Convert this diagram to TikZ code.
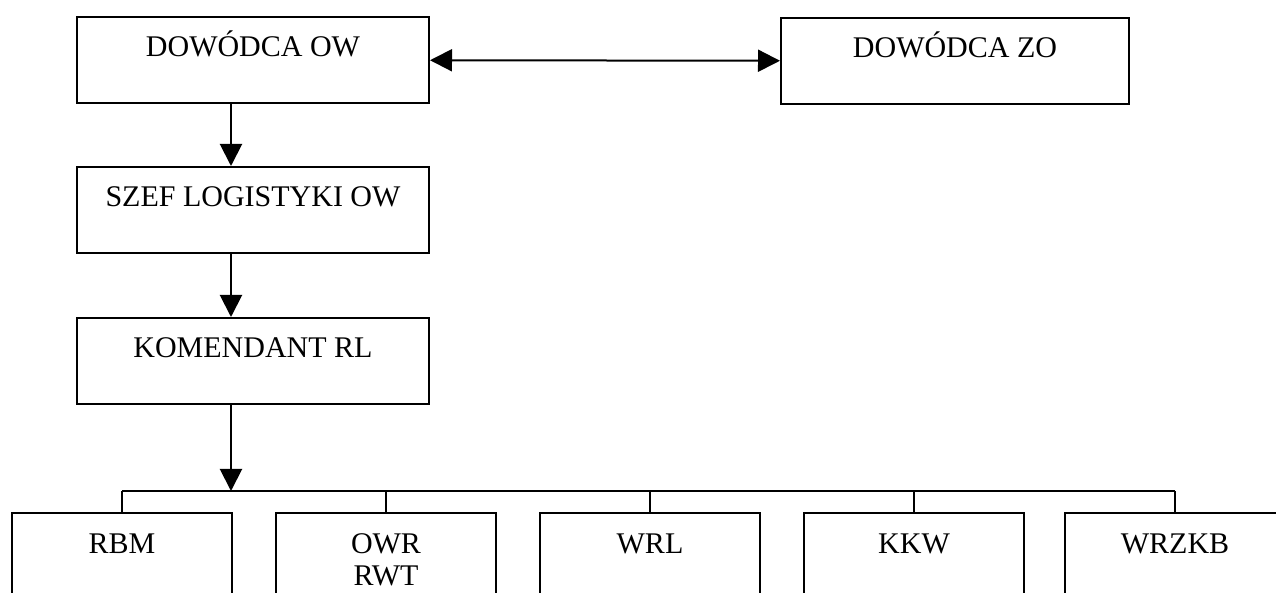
\documentclass[tikz,border=0pt]{standalone}
\usepackage{fontspec}
\setmainfont{Liberation Serif}
\usepackage{tikz}
\usetikzlibrary{arrows.meta, positioning}

\begin{document}
\begin{tikzpicture}[x=0.5pt, y=-0.5pt]
\tikzstyle{box} = [
	shape=rectangle,
	draw=black, %border of the box
	line width=1pt,
	inner sep=0pt,
	text height=20pt, %text sits near the top of the box
	text depth=23pt,
	align=center,
	font=\fontsize{15pt}{16pt}\selectfont
];
\tikzstyle{twolines} = [text height=36pt, text depth=7pt];
\tikzstyle{link} = [-{Triangle[length=11pt,width=11pt]}, line width=1pt, color=black];

\clip (0,0) rectangle (1276,593);

%command chain
\node[box, minimum width=176pt](Ow) at (253,60) {DOWÓDCA OW};
\node[box, minimum width=174pt](Zo) at (955,61) {DOWÓDCA ZO};
\node[box, minimum width=176pt](Sz) at (253,210) {SZEF LOGISTYKI OW};
\node[box, minimum width=176pt](Ko) at (253,361) {KOMENDANT RL};

%units
\foreach \name/\x/\txt/\opt in {Rb/122/RBM/{}, Owr/386/{OWR\\RWT}/twolines, Wr/650/WRL/{}, Kk/914/KKW/{}, Wz/1175/WRZKB/{}}
	\node[box, minimum width=110pt, \opt](\name) at (\x,556) {\txt};

\coordinate (spine) at (231,0);
\coordinate (bus) at (0,491);

%links
\draw[link, {Triangle[length=11pt,width=11pt]}-{Triangle[length=11pt,width=11pt]}] (Ow) -- (Zo);
\draw[link] (Ow.south -| spine) -- (Sz.north -| spine);
\draw[link] (Sz.south -| spine) -- (Ko.north -| spine);
\draw[link] (Ko.south -| spine) -- (bus -| spine);

%bus to units
\draw[line width=1pt] (Rb.north |- bus) -- (Wz.north |- bus);
\foreach \name in {Rb, Owr, Wr, Kk, Wz}
	\draw[line width=1pt] (\name.north |- bus) -- (\name.north);

\end{tikzpicture}
\end{document}
